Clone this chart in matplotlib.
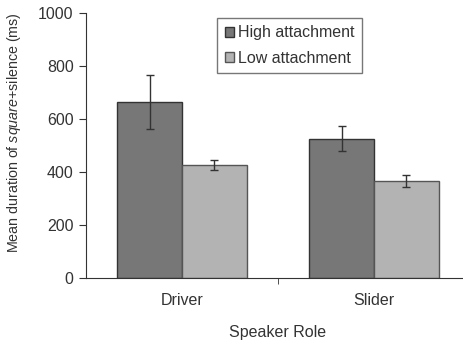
import numpy as np
import matplotlib.pyplot as plt

plt.rcParams['font.family'] = ['Liberation Sans', 'DejaVu Sans']
plt.rcParams['mathtext.fontset'] = 'custom'
plt.rcParams['mathtext.it'] = 'Liberation Sans:italic'
plt.rcParams['mathtext.rm'] = 'Liberation Sans'

roles = ['Driver', 'Slider']
high_mean = [665, 525]
high_err = [102, 47]
low_mean = [427, 366]
low_err = [20, 22]

fig = plt.figure(figsize=(4.64, 3.40), dpi=100)
ax = fig.add_axes([86 / 464, 1 - 278 / 340, 384 / 464, 265 / 340])

x = np.arange(len(roles))
w = 0.338
ek = dict(ecolor='#333333', elinewidth=1, capsize=3, capthick=1)
ax.bar(x - w / 2, high_mean, w, yerr=high_err, color='#777777',
       edgecolor='#333333', linewidth=1, label='High attachment', error_kw=ek)
ax.bar(x + w / 2, low_mean, w, yerr=low_err, color='#b3b3b3',
       edgecolor='#555555', linewidth=1, label='Low attachment', error_kw=ek)

ax.set_xlim(-0.5, 1.5)
ax.set_ylim(0, 1000)
ax.set_yticks(range(0, 1001, 200))
ax.set_xticks(x)
ax.set_xticklabels(roles)
ax.set_xticks([0.5], minor=True)
ax.tick_params(axis='x', which='major', length=0, pad=11, labelsize=11.5, labelcolor='#333333')
ax.tick_params(axis='x', which='minor', length=4, direction='out', color='#333333')
ax.tick_params(axis='y', length=5, direction='out', labelsize=11.5, labelcolor='#333333',
               color='#333333', pad=4)

for s in ['top', 'right']:
    ax.spines[s].set_visible(False)
ax.spines['left'].set_color('#333333')
ax.spines['bottom'].set_color('#333333')

ax.set_xlabel('Speaker Role', fontsize=11.5, color='#333333', labelpad=12)
ax.set_ylabel(r'Mean duration of $\mathit{square}$+silence (ms)', fontsize=10.3,
              color='#333333')
ax.yaxis.set_label_coords(-0.165, 0.55)

leg = ax.legend(loc='upper left', bbox_to_anchor=(0.342, 0.98), fontsize=11.5,
                frameon=True, fancybox=False, edgecolor='#555555',
                handlelength=0.6, handleheight=0.6, handletextpad=0.25,
                borderpad=0.45, labelspacing=0.65, borderaxespad=0)
for t in leg.get_texts():
    t.set_color('#333333')

fig.savefig('out.png', dpi=100)
